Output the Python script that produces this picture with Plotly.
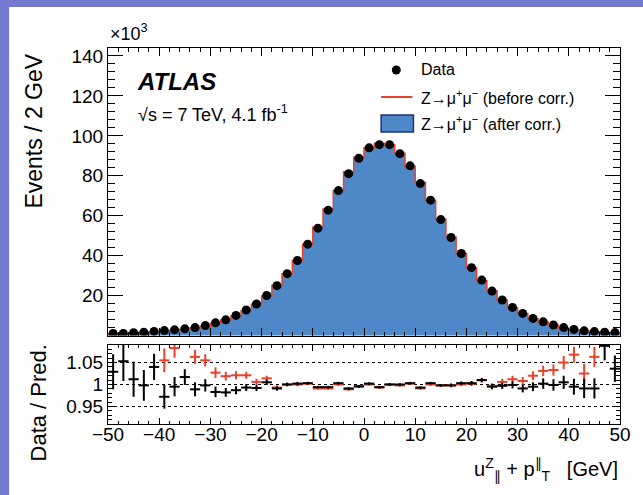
import plotly.graph_objects as go

# ---------------- data ----------------
bin_centers = list(range(-49, 50, 2))  # GeV, 2 GeV bins
bin_halfwidth = [1.0] * 50

data_k = [1.1, 1.1, 1.4, 1.7, 2.1, 2.5, 2.9, 3.4, 4.0, 5.0,
          6.4, 7.9, 10.1, 12.8, 15.8, 20.1, 25.0, 31.0, 37.6, 45.8,
          53.8, 62.8, 72.6, 81.1, 88.8, 94.0, 95.6, 95.6, 91.1, 85.0,
          76.1, 67.8, 58.1, 49.1, 41.1, 34.0, 27.8, 22.3, 17.8, 14.1,
          11.1, 8.6, 6.9, 5.3, 4.0, 3.1, 2.4, 2.0, 1.7, 1.5]

mc_after_k = [1.07, 1.05, 1.38, 1.70, 2.02, 2.57, 2.91, 3.34, 4.04, 5.01,
              6.51, 8.04, 10.23, 12.89, 15.93, 20.0, 25.23, 31.0, 37.52, 45.66,
              54.13, 63.18, 72.38, 81.83, 89.16, 93.81, 96.18, 95.6, 91.1, 84.75,
              76.64, 67.6, 58.22, 49.2, 40.98, 33.9, 27.52, 22.41, 17.85, 14.11,
              11.2, 8.64, 6.89, 5.31, 3.98, 3.12, 2.42, 2.02, 1.56, 1.45]

mc_before_k = [0.98, 0.97, 1.25, 1.52, 1.89, 2.37, 2.68, 3.06, 3.76, 4.74,
               6.23, 7.75, 9.89, 12.54, 15.71, 19.82, 25.18, 31.0, 37.6, 45.71,
               54.29, 63.37, 72.6, 82.0, 89.25, 94.0, 96.27, 95.6, 91.28, 84.83,
               76.79, 67.8, 58.22, 49.2, 41.1, 33.93, 27.52, 22.36, 17.69, 13.93,
               11.01, 8.43, 6.69, 5.13, 3.81, 2.9, 2.34, 1.88, 1.55, 1.38]

ratio_after = [1.029, 1.053, 1.012, 0.998, 1.040, 0.972, 0.995, 1.017, 0.989, 0.998,
               0.983, 0.982, 0.987, 0.993, 0.992, 1.005, 0.991, 1.000, 1.002, 1.003,
               0.994, 0.994, 1.003, 0.991, 0.996, 1.002, 0.994, 1.000, 1.000, 1.003,
               0.993, 1.003, 0.998, 0.998, 1.003, 1.003, 1.010, 0.995, 0.997, 0.999,
               0.991, 0.995, 1.002, 0.999, 1.005, 0.995, 0.991, 0.991, 1.088, 1.036]

ratio_before = [1.15, 1.15, 1.15, 1.15, 1.15, 1.055, 1.083, 1.15, 1.063, 1.055,
                1.027, 1.019, 1.021, 1.021, 1.006, 1.014, 0.993, 1.000, 1.000, 1.002,
                0.991, 0.991, 1.000, 0.989, 0.995, 1.000, 0.993, 1.000, 0.998, 1.002,
                0.991, 1.000, 0.998, 0.998, 1.000, 1.002, 1.010, 0.997, 1.006, 1.012,
                1.008, 1.020, 1.031, 1.033, 1.050, 1.068, 1.025, 1.063, 1.15, 1.15]

ratio_err = [0.040, 0.045, 0.040, 0.035, 0.030, 0.027, 0.022, 0.018, 0.016, 0.014,
             0.012, 0.010, 0.009, 0.008, 0.007, 0.006, 0.005, 0.004, 0.004, 0.003,
             0.003, 0.003, 0.003, 0.003, 0.003, 0.003, 0.003, 0.003, 0.003, 0.003,
             0.003, 0.003, 0.003, 0.004, 0.004, 0.005, 0.005, 0.006, 0.007, 0.008,
             0.009, 0.010, 0.012, 0.013, 0.015, 0.018, 0.022, 0.023, 0.033, 0.030]

main_yticks = [20, 40, 60, 80, 100, 120, 140]
ratio_yticks = [0.95, 1.0, 1.05]
ratio_yticktext = ["0.95", "1", "1.05"]
x_ticks = [-50, -40, -30, -20, -10, 0, 10, 20, 30, 40, 50]

# ---------------- style ----------------
FONT = "Liberation Sans, Arial, Helvetica, sans-serif"
BLUE = "#4f88c6"
RED = "#e8412c"
NAVY = "#20307a"
W, H = 643, 495
ML, MR, MT, MB = 108, 12, 48, 71
PW, PH = W - ML - MR, H - MT - MB


def px(xp):
    return (xp - ML) / PW


def py(yp):
    return (H - MB - yp) / PH


fig = go.Figure()

# filled histogram (after corr.)
fig.add_trace(go.Bar(x=bin_centers, y=mc_after_k, width=2, marker=dict(color=BLUE, line=dict(width=0)),
                     xaxis="x", yaxis="y", showlegend=False))

# step line (before corr.)
edges = [c - 1 for c in bin_centers] + [bin_centers[-1] + 1]
fig.add_trace(go.Scatter(x=edges, y=mc_before_k + [mc_before_k[-1]], mode="lines",
                         line=dict(color=RED, width=1.5, shape="hv"),
                         xaxis="x", yaxis="y", showlegend=False))

# data points
fig.add_trace(go.Scatter(x=bin_centers, y=data_k, mode="markers",
                         marker=dict(color="black", size=9),
                         xaxis="x", yaxis="y", showlegend=False))

# ratio: before corr (red)
fig.add_trace(go.Scatter(x=bin_centers, y=ratio_before, mode="markers",
                         marker=dict(size=0.1, color=RED),
                         error_x=dict(type="data", array=bin_halfwidth, color=RED, thickness=2, width=0),
                         error_y=dict(type="data", array=ratio_err, color=RED, thickness=2, width=0),
                         xaxis="x2", yaxis="y2", showlegend=False))
# ratio: after corr (black)
fig.add_trace(go.Scatter(x=bin_centers, y=ratio_after, mode="markers",
                         marker=dict(size=0.1, color="black"),
                         error_x=dict(type="data", array=bin_halfwidth, color="black", thickness=2, width=0),
                         error_y=dict(type="data", array=ratio_err, color="black", thickness=2, width=0),
                         xaxis="x2", yaxis="y2", showlegend=False))

axis_common = dict(showline=True, linecolor="black", linewidth=1, mirror="allticks",
                   ticks="inside", tickcolor="black", zeroline=False, showgrid=False,
                   tickfont=dict(family=FONT, size=19, color="black"))

split = py(335.6)
ratio_top = py(345)

fig.update_layout(
    width=W, height=H,
    margin=dict(l=ML, r=MR, t=MT, b=MB, pad=0),
    paper_bgcolor="#7479cf",
    plot_bgcolor="white",
    bargap=0,
    showlegend=False,
    font=dict(family=FONT, color="black"),
    xaxis=dict(axis_common, domain=[0, 1], anchor="y", range=[-50, 50], tickvals=x_ticks,
               showticklabels=False, ticklen=8,
               minor=dict(ticks="inside", ticklen=4, dtick=2, tick0=-50, tickcolor="black")),
    yaxis=dict(axis_common, domain=[split, 1], anchor="x", range=[0, 144], tickvals=main_yticks,
               ticklen=15,
               minor=dict(ticks="inside", ticklen=7, dtick=4, tick0=0, tickcolor="black")),
    xaxis2=dict(axis_common, domain=[0, 1], anchor="y2", range=[-50, 50], tickvals=x_ticks,
                matches="x", ticklen=6, ticklabelstandoff=-7,
                minor=dict(ticks="inside", ticklen=3, dtick=2, tick0=-50, tickcolor="black")),
    yaxis2=dict(axis_common, domain=[0, ratio_top], anchor="x2", range=[0.91, 1.09],
                tickvals=ratio_yticks, ticktext=ratio_yticktext, ticklen=8,
                showgrid=True, gridcolor="black", gridwidth=1, griddash="dot",
                minor=dict(ticks="inside", ticklen=4, dtick=0.01, tick0=0.9, tickcolor="black",
                           showgrid=False)),
)

shapes = [
    # white card on slide background
    dict(type="rect", xref="paper", yref="paper", x0=px(7), x1=px(660), y0=py(510), y1=py(7),
         fillcolor="white", line=dict(width=0), layer="below"),
    # legend glyphs
    dict(type="circle", xref="paper", yref="paper", xsizemode="pixel", ysizemode="pixel",
         xanchor=px(402.5), yanchor=py(70), x0=-4.5, x1=4.5, y0=-4.5, y1=4.5,
         fillcolor="black", line=dict(width=0)),
    dict(type="line", xref="paper", yref="paper", x0=px(387), x1=px(419), y0=py(97), y1=py(97),
         line=dict(color=RED, width=2)),
    dict(type="rect", xref="paper", yref="paper", x0=px(387), x1=px(420), y0=py(132), y1=py(115),
         fillcolor=BLUE, line=dict(color=NAVY, width=1.5)),
]
fig.update_layout(shapes=shapes)

ann = [
    dict(text="×10<sup>3</sup>", x=0, y=1.005, xanchor="left", yanchor="bottom", font=dict(size=18)),
    dict(text="<b><i>ATLAS</i></b>", x=px(136), y=py(81), xanchor="left", yanchor="middle",
         font=dict(size=24)),
    dict(text="√s = 7 TeV, 4.1 fb<sup>-1</sup>", x=px(137), y=py(113), xanchor="left",
         yanchor="middle", font=dict(size=18)),
    dict(text="Data", x=px(426), y=py(70), xanchor="left", yanchor="middle", font=dict(size=16)),
    dict(text="Z→μ<sup>+</sup>μ<sup>−</sup> (before corr.)", x=px(426), y=py(97), xanchor="left",
         yanchor="middle", font=dict(size=16)),
    dict(text="Z→μ<sup>+</sup>μ<sup>−</sup> (after corr.)", x=px(426), y=py(123), xanchor="left",
         yanchor="middle", font=dict(size=16)),
    dict(text="Events / 2 GeV", x=px(32), y=py(131), xanchor="center", yanchor="middle",
         textangle=-90, font=dict(size=23)),
    dict(text="Data / Pred.", x=px(37), y=py(403), xanchor="center", yanchor="middle",
         textangle=-90, font=dict(size=22)),
    dict(text="u<sup>Z</sup><sub>∥</sub> + p<sup>∥</sup><sub>T</sub>   [GeV]", x=1, y=py(469),
         xanchor="right", yanchor="middle", font=dict(size=20)),
]
for a in ann:
    a.update(xref="paper", yref="paper", showarrow=False)
    a.setdefault("font", {})
    a["font"].update(family=FONT, color="black")
fig.update_layout(annotations=ann)

fig.write_html("out.html")
